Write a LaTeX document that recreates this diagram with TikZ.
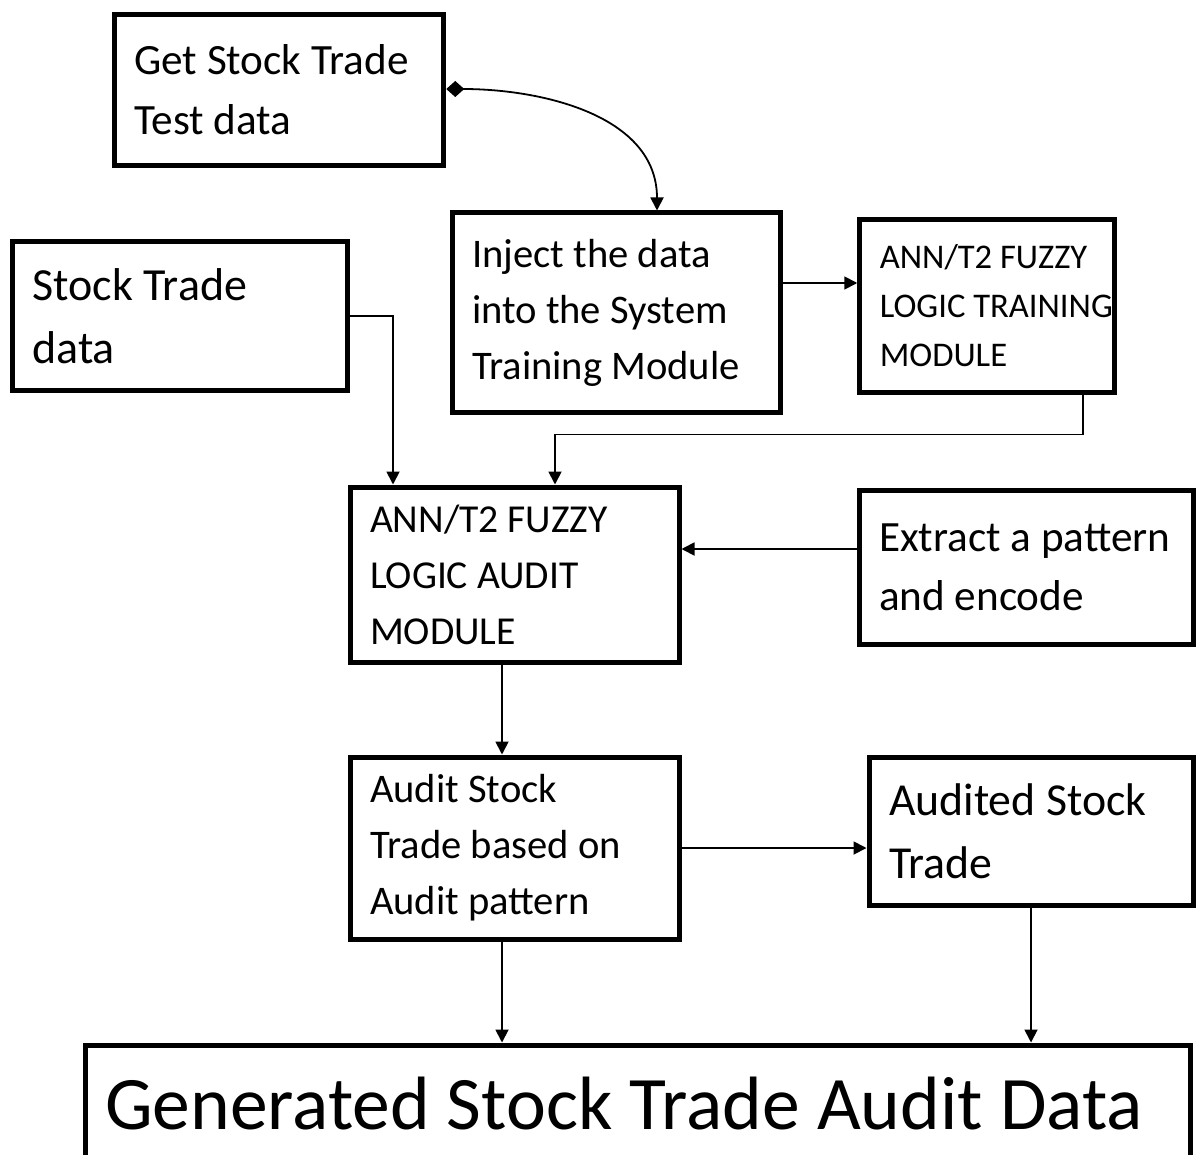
\documentclass[tikz,border=0pt]{standalone}
\usepackage{fontspec}
\setmainfont{Carlito}
\usetikzlibrary{arrows.meta}

\newcommand{\boxfont}[2]{\fontsize{#1}{#2}\selectfont}

\begin{document}
\begin{tikzpicture}[x=0.5pt,y=-0.5pt,
    box/.style={draw, line width=2.5pt, align=flush left, inner xsep=10pt, inner ysep=0pt},
    conn/.style={line width=0.9pt, -{Triangle[length=6.5pt,width=6.5pt]}}]
  \useasboundingbox (0,0) rectangle (1198,1155);

  % boxes
  \node[box, minimum width=164.75pt, minimum height=75.5pt, text width=144.75pt, font=\boxfont{21.6}{30}] (gettest) at (279,90) {Get Stock Trade\\Test data};
  \node[box, minimum width=167.75pt, minimum height=74.75pt, text width=147.75pt, font=\boxfont{23}{31.5}] (stockdata) at (180,316) {Stock Trade\\data};
  \node[box, minimum width=164pt, minimum height=99.5pt, text width=144pt, font=\boxfont{20.3}{28}] (inject) at (616,312.5) {Inject the data\\into the System\\Training Module};
  \node[box, minimum width=127.25pt, minimum height=86.5pt, text width=107.25pt, font=\boxfont{17.3}{24.5}] (training) at (987,306) {ANN/T2 FUZZY\\\mbox{LOGIC TRAINING}\\MODULE};
  \node[box, minimum width=164.5pt, minimum height=87.5pt, text width=144.5pt, font=\boxfont{19.8}{28}] (auditmod) at (514.5,574.5) {ANN/T2 FUZZY\\LOGIC AUDIT\\MODULE};
  \node[box, minimum width=167pt, minimum height=77pt, text width=147pt, font=\boxfont{21.6}{29.5}] (extract) at (1026,567) {\mbox{Extract a pattern}\\and encode};
  \node[box, minimum width=164.5pt, minimum height=91pt, text width=144.5pt, font=\boxfont{20.3}{28}] (auditing) at (514.5,848) {Audit Stock\\Trade based on\\Audit pattern};
  \node[box, minimum width=162pt, minimum height=74pt, text width=142pt, font=\boxfont{22.9}{31.5}] (audited) at (1031,831) {Audited Stock\\Trade};
  \node[box, minimum width=552.5pt, minimum height=58.5pt, text width=532.5pt, font=\boxfont{37.8}{44}] (result) at (637.5,1103.5) {Generated Stock Trade Audit Data};

  % connectors
  \draw[line width=0.9pt, {Diamond[length=9pt,width=8pt]}-{Triangle[length=6.5pt,width=6.5pt]}] ([yshift=0.5pt]gettest.east) to[out=0,in=90] ([xshift=20.5pt]inject.north);
  \draw[conn] ([yshift=14.75pt]inject.east) -- ([yshift=14.75pt]inject.east -| training.west);
  \draw[conn] (stockdata.east) -| ([xshift=-60.75pt]auditmod.north);
  \draw[conn] ([xshift=48pt]training.south) -- ++(0,39.5) -| ([xshift=20.25pt]auditmod.north);
  \draw[conn] ([yshift=9pt]extract.west) -- ([yshift=9pt]extract.west -| auditmod.east);
  \draw[conn] ([xshift=-6.25pt]auditmod.south) -- ([xshift=-6.25pt]auditing.north);
  \draw[conn] (auditing.east) -- (auditing.east -| audited.west);
  \draw[conn] ([xshift=-6.25pt]auditing.south) -- ([xshift=-6.25pt]auditing.south |- result.north);
  \draw[conn] (audited.south) -- (audited.south |- result.north);
\end{tikzpicture}
\end{document}
